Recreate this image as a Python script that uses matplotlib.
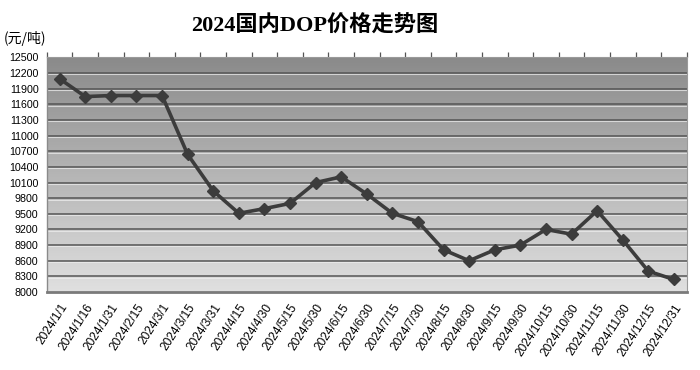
import matplotlib
matplotlib.use("Agg")
import matplotlib.pyplot as plt
import matplotlib.transforms as mtransforms
from matplotlib.colors import LinearSegmentedColormap
import numpy as np

dates = ["2024/1/1", "2024/1/16", "2024/1/31", "2024/2/15", "2024/3/1", "2024/3/15",
         "2024/3/31", "2024/4/15", "2024/4/30", "2024/5/15", "2024/5/30", "2024/6/15",
         "2024/6/30", "2024/7/15", "2024/7/30", "2024/8/15", "2024/8/30", "2024/9/15",
         "2024/9/30", "2024/10/15", "2024/10/30", "2024/11/15", "2024/11/30",
         "2024/12/15", "2024/12/31"]
prices = [12090, 11750, 11770, 11770, 11770, 10640, 9940, 9510, 9600, 9700, 10100,
          10210, 9880, 9510, 9350, 8810, 8600, 8810, 8900, 9200, 9110, 9560, 9000,
          8400, 8240]
yticks = list(range(8000, 12501, 300))
title = "2024国内DOP价格走势图"
unit = "(元/吨)"

plt.rcParams['font.family'] = ['Liberation Sans', 'Noto Sans CJK SC', 'DejaVu Sans']

fig = plt.figure(figsize=(7, 3.7), dpi=100)
ax = fig.add_axes([0.067, 0.2108, 0.914, 0.6338])

n = len(dates)
x = np.arange(n)
ax.set_xlim(-0.5, n - 0.5)
ax.set_ylim(yticks[0], yticks[-1])

# gradient background (dark at top, light at bottom)
grad = np.linspace(0, 1, 256).reshape(-1, 1)
cmap = LinearSegmentedColormap.from_list("g", ["#8a8a8a", "#e0e0e0"])
ax.imshow(grad, aspect='auto', cmap=cmap, extent=[0, 1, 0, 1], origin='upper',
          transform=ax.transAxes, zorder=0)

# gridlines with highlight
offs = mtransforms.offset_copy(ax.transData, fig=fig, x=0, y=-1.3, units='dots')
for v in yticks[1:-1]:
    ax.axhline(v, color='#555555', lw=1.1, zorder=1)
    ax.plot([-0.5, n - 0.5], [v, v], color='#f0f0f0', lw=0.8, alpha=0.7,
            transform=offs, zorder=1)

ax.plot(x, prices, color='#3c3c3c', lw=2.6, marker='D', markersize=6,
        markerfacecolor='#3c3c3c', markeredgecolor='#3c3c3c', zorder=3)

ax.set_yticks(yticks)
ax.set_yticklabels([str(v) for v in yticks], fontsize=7.7)
ax.set_xticks(x)
ax.set_xticklabels(dates, fontsize=8.6, rotation=57, ha='right',
                   rotation_mode='anchor')
ax.set_xticks(np.arange(n + 1) - 0.5, minor=True)
ax.tick_params(axis='x', which='major', length=0, pad=7)
ax.tick_params(axis='x', which='minor', bottom=False, top=True, length=3.5,
               color='#555555', width=0.9)
ax.tick_params(axis='y', length=0, pad=6)

for s in ['top', 'right']:
    ax.spines[s].set_color('#9a9a9a')
    ax.spines[s].set_linewidth(0.8)
ax.spines['left'].set_color('#8a8a8a')
ax.spines['left'].set_linewidth(1.0)
ax.spines['bottom'].set_color('#7a7a7a')
ax.spines['bottom'].set_linewidth(2.0)

fig.text(0.449, 0.93, title, fontsize=16, fontweight='bold', ha='center',
         va='center', family=['Liberation Serif', 'Noto Sans CJK SC'])
fig.text(0.005, 0.895, unit, fontsize=10, ha='left', va='center',
         family=['Noto Sans CJK SC', 'DejaVu Sans'])

fig.savefig("out.png", dpi=100)
